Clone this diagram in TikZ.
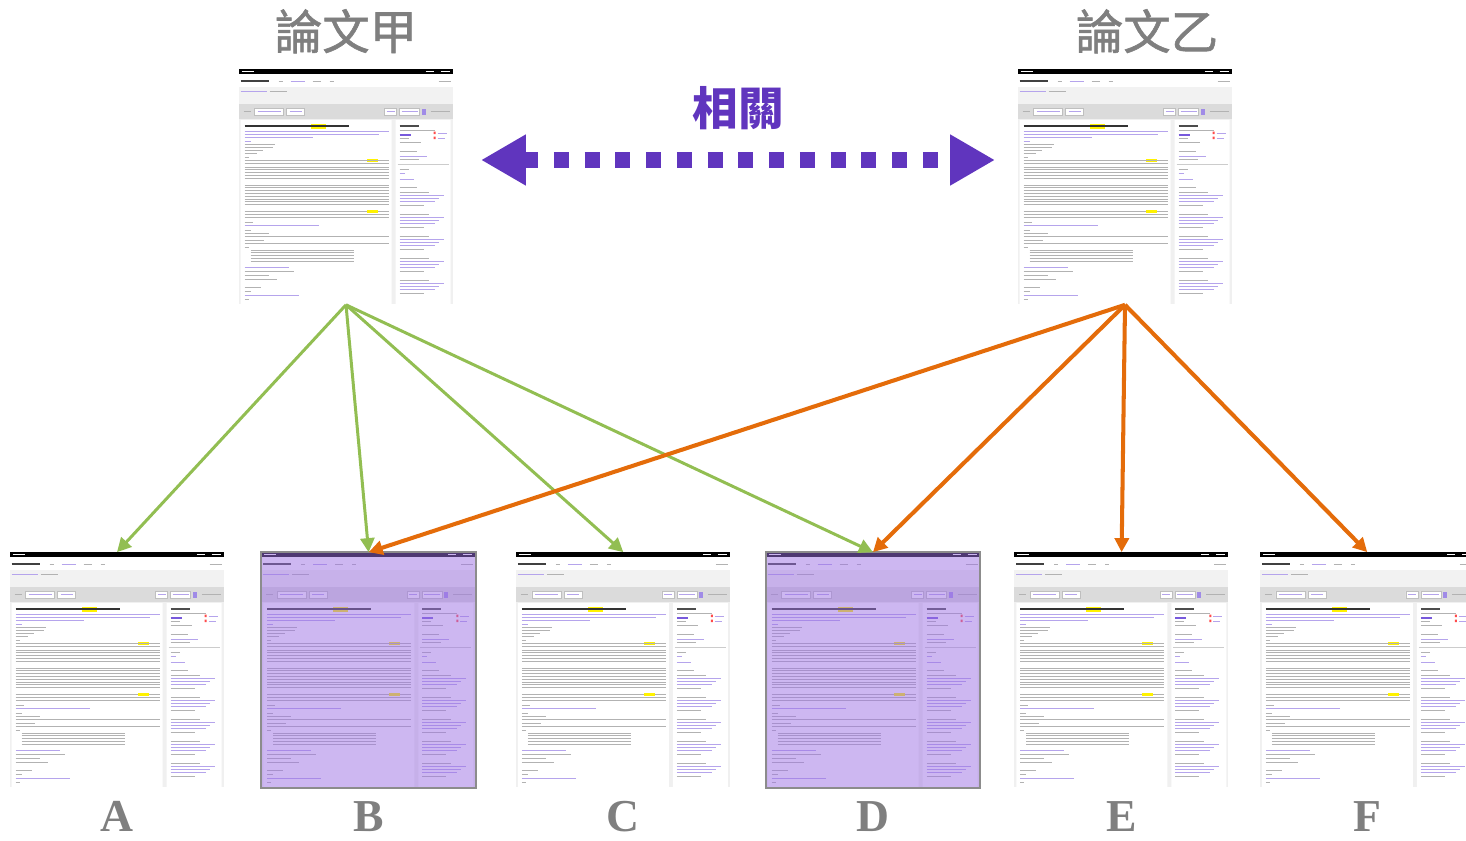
\documentclass[tikz,border=0pt]{standalone}
\usepackage{fontspec}
\usepackage{xcolor}
\usepackage{tikz}
\usetikzlibrary{positioning,arrows.meta,calc}
\newfontfamily\cjk{Noto Sans CJK TC}
\newfontfamily\cjkmid{Noto Sans CJK TC}[FakeBold=1.2]
\newfontfamily\letterfont{Liberation Serif}
\definecolor{titlegray}{RGB}{127,127,127}
\definecolor{relpurple}{RGB}{96,53,190}
\definecolor{citegreen}{RGB}{146,190,82}
\definecolor{citeorange}{RGB}{228,108,10}
\definecolor{hilite}{RGB}{157,113,228}
\definecolor{wosviolet}{RGB}{120,90,220}
\tikzset{
  paper/.style   = {rectangle, inner sep=0pt, minimum width=4.28cm, minimum height=4.7cm},
  title/.style   = {inner sep=0pt, font=\cjkmid\fontsize{27}{30}\selectfont, text=titlegray},
  letter/.style  = {inner sep=0pt, font=\letterfont\bfseries\fontsize{26}{28}\selectfont, text=titlegray},
  txt/.style     = {black!30, line width=0.55pt},
  lnk/.style     = {wosviolet!55, line width=0.55pt},
  pick/.style    = {fill=hilite, fill opacity=0.5},
  cites1/.style  = {-{Triangle[length=8pt,width=8pt]}, citegreen, line width=1.7pt},
  cites2/.style  = {-{Triangle[length=8pt,width=8pt]}, citeorange, line width=2.3pt},
  related/.style = {relpurple, line width=9pt, dash pattern=on 8.5pt off 9pt,
                    {Triangle[length=0.9cm,width=0.96cm]}-{Triangle[length=0.9cm,width=0.96cm]}}
}
% a web page screenshot drawn inside a paper node
\newcommand{\drawpaper}[1]{%
  \begin{scope}[shift={(#1.north west)}]
    \fill[white] (0,0) rectangle (214,235);
    \fill[black] (0,0) rectangle (214,5);
    \draw[white, line width=0.6pt] (3,2.5) -- (15,2.5) (187,2.5) -- (195,2.5) (202,2.5) -- (211,2.5);
    % nav bar
    \draw[black!75, line width=1pt] (2,12) -- (30,12);
    \draw[txt] (40,12) -- (44,12) (74,12) -- (82,12) (91,12) -- (95,12) (200,12) -- (212,12);
    \draw[lnk] (52,12) -- (66,12);
    % breadcrumb and toolbar
    \fill[black!5] (0,18) rectangle (214,35);
    \draw[lnk] (2,22) -- (28,22);
    \draw[txt] (31,22) -- (48,22);
    \fill[black!14] (0,35) rectangle (214,50);
    \draw[black!25, fill=white, line width=0.4pt] (16,39) rectangle (45,46) (48,39) rectangle (66,46)
                                (146,39) rectangle (158,46) (161,39) rectangle (181,46);
    \draw[lnk] (19,42.5) -- (42,42.5) (51,42.5) -- (63,42.5) (148,42.5) -- (156,42.5) (163,42.5) -- (179,42.5);
    \fill[wosviolet!70] (183,39.5) rectangle (187,45.5);
    \draw[txt] (5,42.5) -- (12,42.5) (192,42.5) -- (211,42.5);
    % main column and sidebar
    \fill[black!6] (0,50) rectangle (214,235);
    \fill[white] (2,51) rectangle (153,235) (157,51) rectangle (212,235);
    \fill[yellow] (72,55) rectangle (87,59.5);
    \draw[black!80, line width=0.9pt] (6,57) -- (110,57);
    \foreach \y/\l in {62/150, 65/140, 68/74, 72/12, 156/80, 198/50, 226/60}
      \draw[lnk] (6,\y) -- (\l,\y);
    \foreach \y/\l in {75/36, 78/34, 81/24, 84/18, 88/10, 153/14, 161/12, 164/30, 171/25, 178/10, 202/55, 206/30, 210/38, 218/22, 222/12, 230/10}
      \draw[txt] (6,\y) -- (\l,\y);
    \fill[yellow] (128,89.5) rectangle (139,93);
    \foreach \y in {91,94, 98,100.8,...,112, 116,118.8,...,137, 142,145,148, 167,174}
      \draw[txt] (6,\y) -- (150,\y);
    \foreach \y in {181,183.8,...,194}
      \draw[txt] (12,\y) -- (115,\y);
    \fill[yellow] (128,140.5) rectangle (139,143.5);
    % sidebar
    \draw[black!70, line width=0.8pt] (161,57) -- (180,57);
    \draw[txt] (161,61) -- (196,61) (161,69) -- (170,69) (161,73) -- (182,73) (161,82) -- (178,82)
               (161,90) -- (180,90) (161,100) -- (170,100) (161,118) -- (178,118);
    \draw[wosviolet, line width=1.3pt] (161,66) -- (172,66);
    \fill[red!70] (195,62.5) rectangle (197,65) (195,67.5) rectangle (197,70);
    \draw[lnk] (199,64) -- (208,64) (199,69) -- (206,69) (161,87) -- (188,87) (161,104) -- (166,104) (161,110) -- (175,110);
    \draw[black!20, line width=0.4pt] (159,95) -- (210,95);
    \foreach \b in {123,145,167,189,211} {
      \draw[txt] (161,\b) -- (190,\b);
      \foreach \k/\l in {3/205,6/200,9/196} \draw[lnk] (161,\b+\k) -- (\l,\b+\k);
      \draw[txt] (161,\b+13) -- (185,\b+13);
    }
  \end{scope}
}

\begin{document}
\begin{tikzpicture}[x=0.02cm, y=-0.02cm, node distance=0.7cm]
  \useasboundingbox (0,0) rectangle (1466,841);
  % the two papers
  \node[paper] (P1) at (346,187) {};
  \node[paper] (P2) at (1125,187) {};
  \node[title, above=0.31cm of P1] (P1 title) {論文甲};
  \node[title, above=0.31cm of P2, xshift=0.44cm] (P2 title) {論文乙};
  % citing papers
  \node[paper] (A) at (117,670) {};
  \node[paper, right=0.74cm of A] (B) {};
  \node[paper, right=0.8cm of B] (C) {};
  \node[paper, right=0.7cm of C] (D) {};
  \node[paper, right=0.68cm of D] (E) {};
  \node[paper, right=0.62cm of E] (F) {};
  \foreach \n in {P1,P2,A,B,C,D,E,F}
    \drawpaper{\n};
  \foreach \n in {B,D} {
    \fill[pick] (\n.north west) rectangle (\n.south east);
    \draw[black!45, line width=1pt] (\n.north west) rectangle (\n.south east);
  }
  \foreach \n in {A,B,C,D,E,F}
    \node[letter, below=0.26cm of \n] (\n lbl) {\n};
  % relation
  \coordinate (rel left) at (481,160);
  \coordinate (rel right) at (995,160);
  \draw[related] (rel left) -- (rel right);
  \node[font=\cjk\bfseries\fontsize{26}{30}\selectfont, text=relpurple] (rel lbl) at (738,108) {相關};
  % citations
  \foreach \n in {A,B,C,D}
    \draw[cites1] (P1.south) -- (\n.north);
  \foreach \n in {B,D,E,F}
    \draw[cites2] (P2.south) -- (\n.north);
\end{tikzpicture}
\end{document}
